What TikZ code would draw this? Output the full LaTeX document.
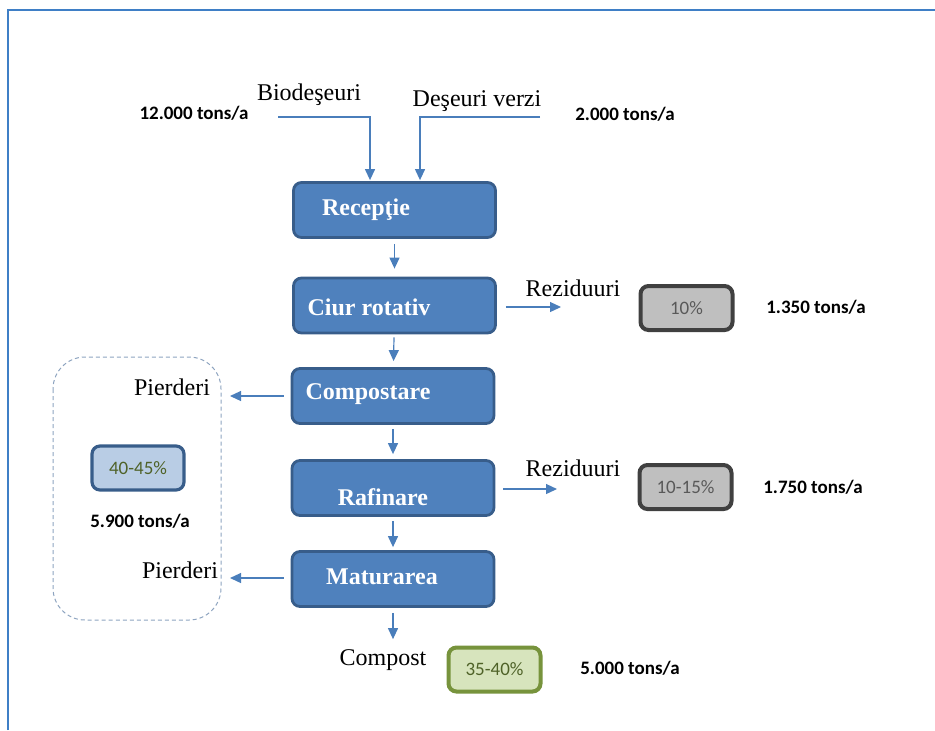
\documentclass[tikz,border=0pt]{standalone}
\usepackage{fontspec}
\setmainfont{Liberation Serif}
\newfontfamily\calibri{Carlito}
\usetikzlibrary{arrows.meta}
\definecolor{framecol}{HTML}{3F7FC6}
\definecolor{procfill}{HTML}{4F81BD}
\definecolor{procdraw}{HTML}{385D8A}
\definecolor{flowblue}{HTML}{4A7EBB}
\definecolor{resfill}{HTML}{BFBFBF}
\definecolor{resdraw}{HTML}{404040}
\definecolor{restext}{HTML}{595959}
\definecolor{lossfill}{HTML}{B9CDE5}
\definecolor{prodfill}{HTML}{D7E4BD}
\definecolor{proddraw}{HTML}{77933C}
\definecolor{sharetext}{HTML}{4F6228}
\definecolor{dashcol}{HTML}{8EA4C0}
\begin{document}
\begin{tikzpicture}[
    x=0.5pt, y=-0.5pt,
    proc/.style={draw=procdraw, fill=procfill, line width=1.4pt, rounded corners=4pt, minimum width=101pt, minimum height=27.5pt},
    proctext/.style={text=white, font=\bfseries\fontsize{12}{14}\selectfont, inner sep=0pt},
    flow/.style={draw=flowblue, line width=0.6pt, -{Triangle[width=5pt,length=5.5pt]}},
    lbl/.style={font=\fontsize{12}{14}\selectfont, inner sep=1pt},
    qty/.style={font=\calibri\bfseries\fontsize{9.5}{11}\selectfont, inner sep=0pt},
    share/.style={rounded corners=4pt, line width=2pt, minimum width=46pt, minimum height=22pt, font=\calibri\fontsize{9.5}{11}\selectfont},
    residue/.style={share, draw=resdraw, fill=resfill, text=restext},
    loss/.style={share, draw=procdraw, fill=lossfill, text=sharetext, line width=1.6pt},
    product/.style={share, draw=proddraw, fill=prodfill, text=sharetext},
  ]
    \useasboundingbox (0,0) rectangle (935,730);
    % Frame
    \draw[framecol, line width=1pt] (8,730) -- (8,10) -- (935,10);
    % Process boxes
    \node[proc] (recep) at (394.5,210) {};
    \node[proctext] at (366,210) {Recepţie};
    \node[proc] (ciur) at (394.5,305.5) {};
    \node[proctext] at (369,307) {Ciur rotativ};
    \node[proc] (compos) at (393,396) {};
    \node[proctext] at (368,394) {Compostare};
    \node[proc] (rafin) at (393,488) {};
    \node[proctext] at (383,497) {Rafinare};
    \node[proc] (matur) at (393,579) {};
    \node[proctext] at (382,577) {Maturarea};

    % Inputs
    \node[lbl] at (309,95) {Biodeşeuri};
    \node[lbl] at (477,101) {Deşeuri verzi};
    \node[qty] at (194,113) {12.000 tons/a};
    \node[qty] at (625,114) {2.000 tons/a};
    \coordinate (bioin) at (278,117);
    \coordinate (verdin) at (540,117);
    \draw[flow, shorten >=0.5pt] (bioin) -| ([xshift=-12.25pt]recep.north);
    \draw[flow, shorten >=0.5pt] (verdin) -| ([xshift=12.75pt]recep.north);

    % Main line
    \draw[flow, shorten <=2.5pt, shorten >=4pt] (recep) -- (ciur);
    \draw[flow, shorten <=1.5pt, shorten >=3pt] (ciur) -- (compos);
    \draw[flow, shorten <=2pt, shorten >=2.5pt] (compos) -- (rafin);
    \draw[flow, shorten <=2pt, shorten >=1.5pt] (rafin) -- (matur);
    \node[lbl] (compost) at (383,660) {Compost};
    \draw[flow, shorten <=2.5pt, shorten >=4pt] (matur.south) -- (matur.south |- compost.north);
    \node[product] (prodbox) at (494.5,669.5) {35-40\%};
    \node[qty] at (630,668) {5.000 tons/a};

    % Residues
    \coordinate (rez1) at (561,307);
    \draw[flow, shorten <=4.5pt] (ciur.east |- rez1) -- (rez1);
    \node[lbl] at (573,288) {Reziduuri};
    \node[residue] (resbox1) at (686.5,308) {10\%};
    \node[qty] at (816,307) {1.350 tons/a};
    \coordinate (rez2) at (557,489);
    \draw[flow, shorten <=4pt] (rafin.east |- rez2) -- (rez2);
    \node[lbl] at (573,468) {Reziduuri};
    \node[residue] (resbox2) at (685.5,487) {10-15\%};
    \node[qty] at (813,487) {1.750 tons/a};

    % Losses
    \draw[dashcol, line width=0.5pt, dash pattern=on 2pt off 1.5pt, rounded corners=16pt] (53,357) rectangle (221,620);
    \coordinate (loss1) at (230,396);
    \coordinate (loss2) at (230,578);
    \draw[flow, shorten <=3.5pt] (compos.west |- loss1) -- (loss1);
    \draw[flow, shorten <=3.5pt] (matur.west |- loss2) -- (loss2);
    \node[lbl] at (172,387) {Pierderi};
    \node[lbl] at (180,570) {Pierderi};
    \node[loss] (lossbox) at (138,468) {40-45\%};
    \node[qty] at (140,521) {5.900 tons/a};
\end{tikzpicture}
\end{document}
